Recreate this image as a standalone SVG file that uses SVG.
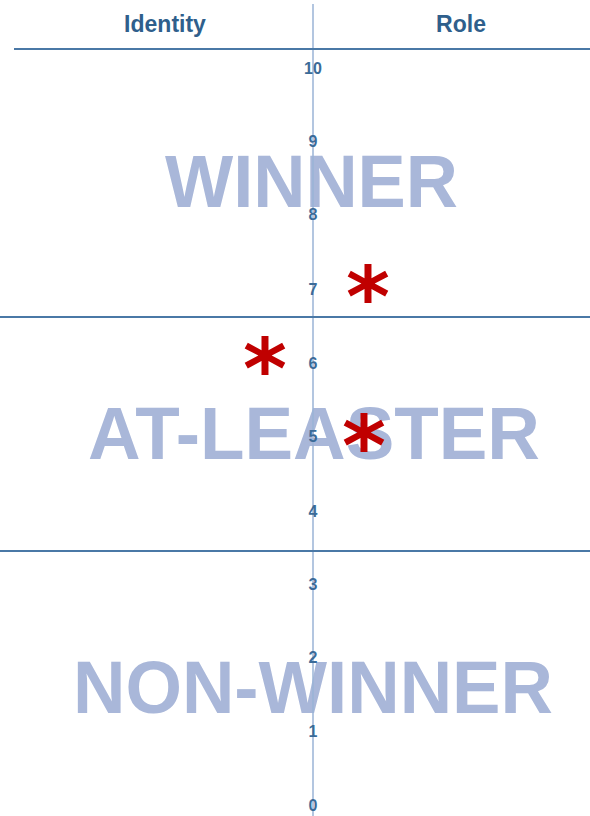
<svg xmlns="http://www.w3.org/2000/svg" width="590" height="816" viewBox="0 0 590 816">
<style>
.hdr{font-family:"Liberation Sans",Arial,sans-serif;font-size:23px;fill:#2f5f8c;text-anchor:middle;font-weight:bold}
.num{font-family:"Liberation Sans",Arial,sans-serif;font-size:16px;font-weight:bold;fill:#3b6b98;text-anchor:middle}
.big{font-family:"Liberation Sans",Arial,sans-serif;font-size:74px;fill:#a9b7d9;font-weight:bold}
.star{font-family:"DejaVu Sans","Liberation Sans",sans-serif;font-size:84px;fill:#c00000;text-anchor:middle;font-weight:bold}
.hline{stroke:#4a78a6;stroke-width:2}
.axis{stroke:#9ab3d6;stroke-width:1.5}
</style>
<rect width="590" height="816" fill="#ffffff"/>
<g id="bands">
<text class="big" x="165" y="207" textLength="293" lengthAdjust="spacingAndGlyphs">WINNER</text>
<text class="big" x="88" y="459" textLength="452" lengthAdjust="spacingAndGlyphs">AT-LEASTER</text>
<text class="big" x="73" y="713" textLength="480" lengthAdjust="spacingAndGlyphs">NON-WINNER</text>
</g>
<g id="connectors">
<line class="axis" x1="313" y1="4" x2="313" y2="816"/>
<line class="hline" x1="14" y1="49" x2="590" y2="49"/>
<line class="hline" x1="0" y1="317" x2="590" y2="317"/>
<line class="hline" x1="0" y1="551" x2="590" y2="551"/>
</g>
<g id="header">
<text class="hdr" x="165" y="32">Identity</text>
<text class="hdr" x="461" y="32">Role</text>
</g>
<g id="scale">
<text class="num" x="313" y="74">10</text>
<text class="num" x="313" y="147">9</text>
<text class="num" x="313" y="220">8</text>
<text class="num" x="313" y="295">7</text>
<text class="num" x="313" y="369">6</text>
<text class="num" x="313" y="442">5</text>
<text class="num" x="313" y="517">4</text>
<text class="num" x="313" y="590">3</text>
<text class="num" x="313" y="663">2</text>
<text class="num" x="313" y="737">1</text>
<text class="num" x="313" y="811">0</text>
</g>
<g id="marks">
<text class="star" x="368" y="326">*</text>
<text class="star" x="265" y="398">*</text>
<text class="star" x="364" y="475">*</text>
</g>
</svg>
